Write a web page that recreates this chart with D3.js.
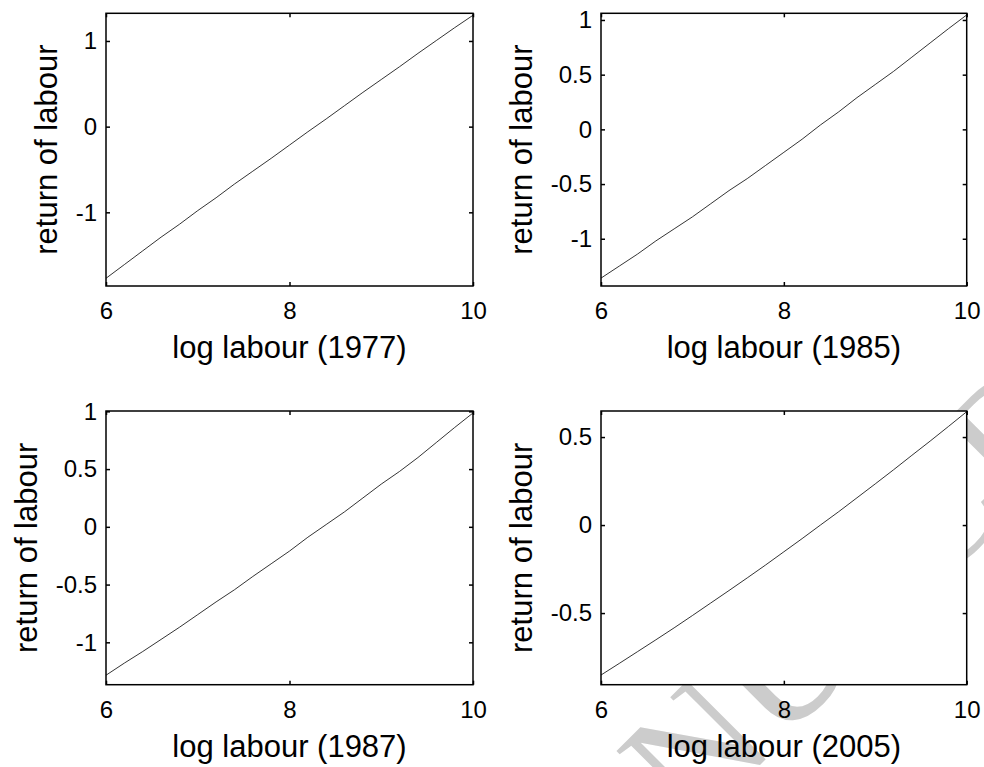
<!DOCTYPE html>
<html>
<head>
<meta charset="utf-8">
<script src="https://cdn.jsdelivr.net/npm/d3@7"></script>
<style>
  html, body { margin: 0; padding: 0; background: #fff; }
  svg { display: block; font-family: "Liberation Sans", Arial, sans-serif; }
  .tick text { font-size: 24px; font-family: "Liberation Sans", Arial, sans-serif; fill: #000; }
</style>
</head>
<body>
<svg id="chart" width="984" height="767"></svg>
<script>
// ---------------- data ----------------
const logLabour = [6.0, 6.2, 6.4, 6.6, 6.8, 7.0, 7.2, 7.4, 7.6, 7.8, 8.0,
                   8.2, 8.4, 8.6, 8.8, 9.0, 9.2, 9.4, 9.6, 9.8, 10.0];

const return1977 = [-1.77, -1.61, -1.45, -1.29, -1.14, -0.98, -0.83, -0.67, -0.52, -0.37, -0.215,
                    -0.06, 0.09, 0.245, 0.40, 0.55, 0.70, 0.855, 1.005, 1.155, 1.30];
const return1985 = [-1.36, -1.25, -1.14, -1.02, -0.91, -0.80, -0.68, -0.56, -0.45, -0.33, -0.21,
                    -0.09, 0.04, 0.16, 0.29, 0.41, 0.53, 0.66, 0.79, 0.92, 1.046];
const return1987 = [-1.285, -1.18, -1.08, -0.975, -0.87, -0.76, -0.65, -0.545, -0.43, -0.32, -0.21,
                    -0.09, 0.02, 0.13, 0.25, 0.37, 0.48, 0.60, 0.73, 0.86, 0.986];
const return2005 = [-0.852, -0.786, -0.719, -0.652, -0.584, -0.514, -0.443, -0.372, -0.300, -0.227, -0.152,
                    -0.077, 0.000, 0.076, 0.155, 0.234, 0.314, 0.396, 0.477, 0.560, 0.644];

const xTicks = [6, 8, 10];
const xDomain = [6, 10];

const yTicks1977 = [-1, 0, 1];
const yTicks1985 = [-1, -0.5, 0, 0.5, 1];
const yTicks1987 = [-1, -0.5, 0, 0.5, 1];
const yTicks2005 = [-0.5, 0, 0.5];

const yDomain1977 = [-1.86, 1.323];
const yDomain1985 = [-1.432, 1.061];
const yDomain1987 = [-1.367, 1.003];
const yDomain2005 = [-0.907, 0.648];

const xLabels = ["log labour (1977)", "log labour (1985)", "log labour (1987)", "log labour (2005)"];
const yLabel = "return of labour";
const watermarkText = "MANUSCRIPT";

// ---------------- layout ----------------
const svg = d3.select("#chart");
const colX = [[106, 473], [601, 966.7]];
const rowY = [[13.3, 286], [411, 684.7]];

const panels = [
  { series: return1977, yTicks: yTicks1977, yDomain: yDomain1977, xLabel: xLabels[0], c: 0, r: 0 },
  { series: return1985, yTicks: yTicks1985, yDomain: yDomain1985, xLabel: xLabels[1], c: 1, r: 0 },
  { series: return1987, yTicks: yTicks1987, yDomain: yDomain1987, xLabel: xLabels[2], c: 0, r: 1 },
  { series: return2005, yTicks: yTicks2005, yDomain: yDomain2005, xLabel: xLabels[3], c: 1, r: 1 }
];

// watermark (behind everything, hidden by the white axes)
svg.append("text")
  .attr("transform", "translate(498,1027) rotate(-45)")
  .attr("font-family", "'Liberation Serif', 'Times New Roman', serif")
  .attr("font-size", 170)
  .attr("fill", "#cccccc")
  .text(watermarkText);

const fmt = d => String(d);
const TICK = 4;

panels.forEach(p => {
  const [x0, x1] = colX[p.c];
  const [y0, y1] = rowY[p.r];
  const x = d3.scaleLinear().domain(xDomain).range([x0, x1]);
  const y = d3.scaleLinear().domain(p.yDomain).range([y1, y0]);

  const g = svg.append("g");

  g.append("rect")
    .attr("x", x0).attr("y", y0)
    .attr("width", x1 - x0).attr("height", y1 - y0)
    .attr("fill", "#fff");

  const line = d3.line().x((d, i) => x(logLabour[i])).y(d => y(d));
  g.append("path")
    .datum(p.series)
    .attr("d", line)
    .attr("fill", "none")
    .attr("stroke", "#000")
    .attr("stroke-width", 0.8);

  const left = g.append("g").attr("transform", `translate(${x0},0)`)
    .call(d3.axisLeft(y).tickValues(p.yTicks).tickFormat(fmt)
      .tickSizeInner(-TICK).tickSizeOuter(0).tickPadding(9));
  const right = g.append("g").attr("transform", `translate(${x1},0)`)
    .call(d3.axisRight(y).tickValues(p.yTicks).tickFormat("")
      .tickSizeInner(-TICK).tickSizeOuter(0));
  const bottom = g.append("g").attr("transform", `translate(0,${y1})`)
    .call(d3.axisBottom(x).tickValues(xTicks).tickFormat(fmt)
      .tickSizeInner(-TICK).tickSizeOuter(0));
  const top = g.append("g").attr("transform", `translate(0,${y0})`)
    .call(d3.axisTop(x).tickValues(xTicks).tickFormat("")
      .tickSizeInner(-TICK).tickSizeOuter(0));

  [left, right, bottom, top].forEach(a => {
    a.attr("font-size", null).attr("font-family", null);
    a.select(".domain").remove();
    a.selectAll(".tick line").attr("stroke", "#000").attr("stroke-width", 1.5);
  });
  bottom.selectAll(".tick text").attr("y", 33.3).attr("dy", 0);

  g.append("rect")
    .attr("x", x0).attr("y", y0)
    .attr("width", x1 - x0).attr("height", y1 - y0)
    .attr("fill", "none")
    .attr("stroke", "#000")
    .attr("stroke-width", 1.5);

  g.append("text")
    .attr("x", (x0 + x1) / 2)
    .attr("y", y1 + 72)
    .attr("text-anchor", "middle")
    .attr("font-size", 31)
    .attr("fill", "#000")
    .text(p.xLabel);

  let minX = Infinity;
  left.selectAll(".tick text").each(function () {
    const b = this.getBBox();
    minX = Math.min(minX, x0 + b.x);
  });
  const ly = (y0 + y1) / 2;
  const lx = minX - 19;
  g.append("text")
    .attr("transform", `translate(${lx},${ly}) rotate(-90)`)
    .attr("text-anchor", "middle")
    .attr("font-size", 31)
    .attr("fill", "#000")
    .text(yLabel);
});
</script>
</body>
</html>
